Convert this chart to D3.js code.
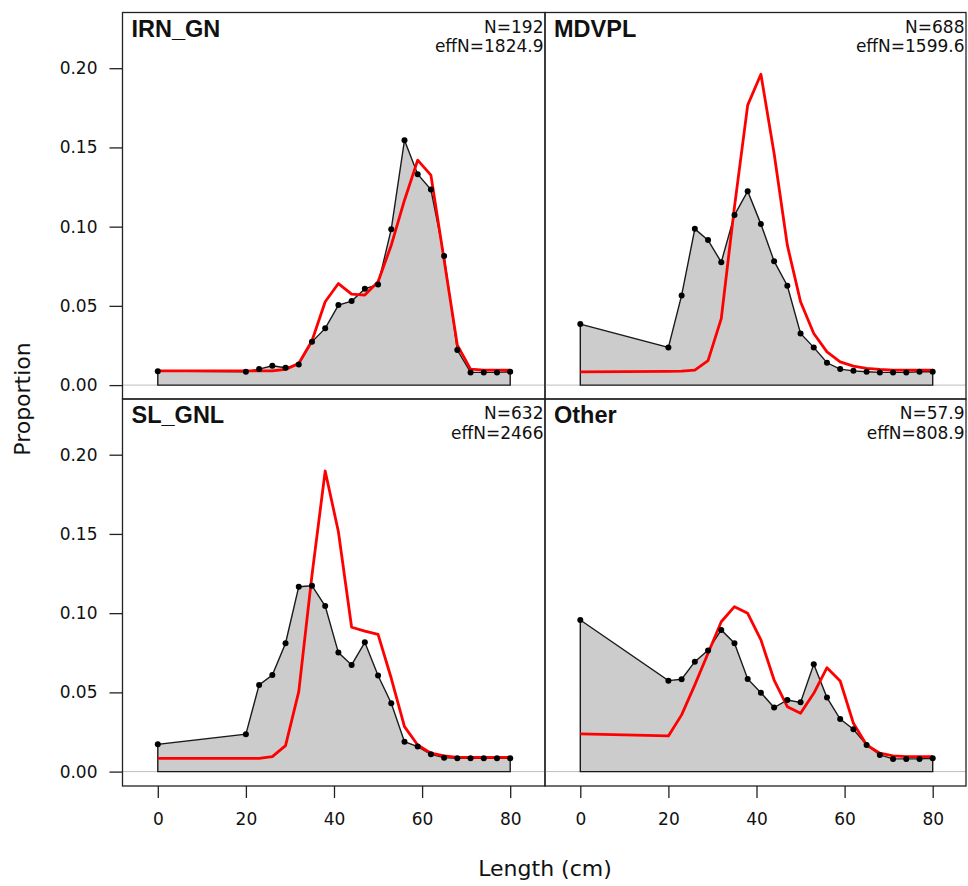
<!DOCTYPE html>
<html lang="en">
<head>
<meta charset="utf-8">
<title>Length compositions by fleet</title>
<script src="https://cdn.jsdelivr.net/npm/d3@7/dist/d3.min.js"></script>
<style>
  body { margin: 0; background: #fff; }
  svg text { font-family: "DejaVu Sans", sans-serif; fill: #111; }
</style>
</head>
<body>
<div id="chart"></div>
<script>
// length bins (cm)
var lengths = [0, 20, 23, 26, 29, 32, 35, 38, 41, 44, 47, 50, 53, 56, 59, 62, 65, 68, 71, 74, 77, 80];
var fleets = ["IRN_GN", "MDVPL", "SL_GNL", "Other"];
var nLabels = ["N=192", "N=688", "N=632", "N=57.9"];
var effNLabels = ["effN=1824.9", "effN=1599.6", "effN=2466", "effN=808.9"];
var xTicks = [0, 20, 40, 60, 80];
var yTicks = [0, 0.05, 0.10, 0.15, 0.20];

// observed (grey) and expected (red) proportions
var obsIRN = [0.0088, 0.0084, 0.0101, 0.0122, 0.011, 0.013, 0.0273, 0.0358, 0.0505, 0.053, 0.0608, 0.0635, 0.0984, 0.1546, 0.1331, 0.1234, 0.0814, 0.0221, 0.008, 0.008, 0.008, 0.0084];
var expIRN = [0.009, 0.009, 0.009, 0.009, 0.0099, 0.0137, 0.028, 0.0526, 0.0641, 0.0574, 0.0568, 0.0652, 0.0883, 0.1167, 0.142, 0.1325, 0.0789, 0.0252, 0.0101, 0.0095, 0.0095, 0.0095];
var obsMDV = [0.0385, 0.0238, 0.0566, 0.0986, 0.0915, 0.0776, 0.1073, 0.1224, 0.1016, 0.0782, 0.0627, 0.0326, 0.0238, 0.0141, 0.0101, 0.009, 0.0084, 0.008, 0.008, 0.008, 0.0084, 0.0084];
var expMDV = [0.0084, 0.0086, 0.0088, 0.0095, 0.0154, 0.042, 0.1125, 0.1767, 0.1962, 0.1462, 0.0883, 0.0526, 0.0326, 0.021, 0.0147, 0.012, 0.0105, 0.0099, 0.0095, 0.0095, 0.0095, 0.0095];
var obsSL = [0.0172, 0.0236, 0.0547, 0.061, 0.081, 0.1167, 0.1173, 0.1045, 0.0751, 0.0673, 0.0816, 0.0606, 0.0431, 0.0189, 0.0158, 0.0109, 0.0088, 0.0084, 0.0084, 0.0084, 0.0084, 0.0084];
var expSL = [0.0084, 0.0084, 0.0084, 0.0095, 0.0164, 0.0505, 0.124, 0.1897, 0.1514, 0.0911, 0.0887, 0.0866, 0.0589, 0.0284, 0.0168, 0.0116, 0.0099, 0.009, 0.009, 0.009, 0.009, 0.009];
var obsOther = [0.0957, 0.0574, 0.0583, 0.0694, 0.0765, 0.0894, 0.081, 0.0585, 0.0498, 0.0404, 0.0452, 0.0437, 0.0677, 0.0467, 0.0332, 0.0267, 0.0168, 0.0105, 0.008, 0.008, 0.008, 0.0084];
var expOther = [0.0238, 0.0225, 0.0358, 0.0547, 0.0747, 0.0946, 0.1041, 0.0999, 0.0831, 0.0578, 0.041, 0.0368, 0.0494, 0.0656, 0.0572, 0.0305, 0.0168, 0.0116, 0.0099, 0.0095, 0.0095, 0.0095];

var observed = [obsIRN, obsMDV, obsSL, obsOther];
var expected = [expIRN, expMDV, expSL, expOther];

var W = 968, H = 886;
var boxLeft = 122.5, boxRight = 966, boxTop = 12.5, boxBottom = 786;
var midX = 545, midY = 399;

var svg = d3.select("#chart").append("svg")
    .attr("width", W)
    .attr("height", H);

function panel(i) {
    var col = i % 2, row = Math.floor(i / 2);
    var x0 = col === 0 ? boxLeft : midX, x1 = col === 0 ? midX : boxRight;
    var y0 = row === 0 ? boxTop : midY, y1 = row === 0 ? midY : boxBottom;

    var x = d3.scaleLinear().domain([0, 80]).range([x0 + 35.3, x0 + 387.7]);
    var y = d3.scaleLinear().domain([0, 0.2]).range([y0 + 372.6, y0 + 55.7]);

    var g = svg.append("g");

    // grey zero line
    g.append("line")
        .attr("x1", x0).attr("x2", x1)
        .attr("y1", y(0)).attr("y2", y(0))
        .style("stroke", "#bdbdbd")
        .style("stroke-width", 1);

    var obs = observed[i].map(function(v, j) { return [lengths[j], v]; });
    var poly = [[0, 0]].concat(obs).concat([[80, 0]]);

    g.append("path")
        .attr("d", d3.line().x(function(d) { return x(d[0]); }).y(function(d) { return y(d[1]); })(poly) + "Z")
        .style("fill", "#cccccc")
        .style("stroke", "#1a1a1a")
        .style("stroke-width", 1.4);

    var ex = expected[i].map(function(v, j) { return [lengths[j], v]; });
    g.append("path")
        .attr("d", d3.line().x(function(d) { return x(d[0]); }).y(function(d) { return y(d[1]); })(ex))
        .style("fill", "none")
        .style("stroke", "#ff0000")
        .style("stroke-width", 2.8)
        .style("stroke-linejoin", "round");

    g.selectAll("circle")
        .data(obs)
        .enter()
        .append("circle")
        .attr("cx", function(d) { return x(d[0]); })
        .attr("cy", function(d) { return y(d[1]); })
        .attr("r", 3)
        .style("fill", "#000");

    // panel box
    g.append("rect")
        .attr("x", x0).attr("y", y0)
        .attr("width", x1 - x0).attr("height", y1 - y0)
        .style("fill", "none")
        .style("stroke", "#222")
        .style("stroke-width", 1.3);

    g.append("text")
        .attr("x", x0 + 9)
        .attr("y", y0 + 24)
        .style("font-family", "'Liberation Sans', Arial, sans-serif")
        .style("font-weight", "bold")
        .style("font-size", "23.5px")
        .text(fleets[i]);

    g.append("text")
        .attr("x", x1 - 1.5)
        .attr("y", y0 + 20)
        .attr("text-anchor", "end")
        .style("font-size", "17px")
        .text(nLabels[i]);

    g.append("text")
        .attr("x", x1 - 1.5)
        .attr("y", y0 + 39.5)
        .attr("text-anchor", "end")
        .style("font-size", "17px")
        .text(effNLabels[i]);

    if (col === 0) {
        var yAxis = d3.axisLeft(y).tickValues(yTicks).tickSize(13).tickPadding(12)
            .tickFormat(d3.format(".2f"));
        var ga = svg.append("g")
            .attr("transform", "translate(" + boxLeft + ",0)")
            .call(yAxis);
        ga.select(".domain").remove();
        ga.selectAll("line").style("stroke", "#222").style("stroke-width", 1.3);
        ga.selectAll("text").style("font-size", "17px").style("font-family", "'DejaVu Sans', sans-serif").attr("fill", "#111");
    }
    if (row === 1) {
        var xAxis = d3.axisBottom(x).tickValues(xTicks).tickSize(12).tickPadding(15);
        var gb = svg.append("g")
            .attr("transform", "translate(0," + boxBottom + ")")
            .call(xAxis);
        gb.select(".domain").remove();
        gb.selectAll("line").style("stroke", "#222").style("stroke-width", 1.3);
        gb.selectAll("text").style("font-size", "17px").style("font-family", "'DejaVu Sans', sans-serif").attr("fill", "#111");
    }
}

for (var i = 0; i < fleets.length; i++) panel(i);

svg.append("text")
    .attr("x", 545)
    .attr("y", 876)
    .attr("text-anchor", "middle")
    .style("font-size", "22px")
    .text("Length (cm)");

svg.append("text")
    .attr("transform", "translate(30,399) rotate(-90)")
    .attr("text-anchor", "middle")
    .style("font-size", "22px")
    .text("Proportion");
</script>
</body>
</html>
